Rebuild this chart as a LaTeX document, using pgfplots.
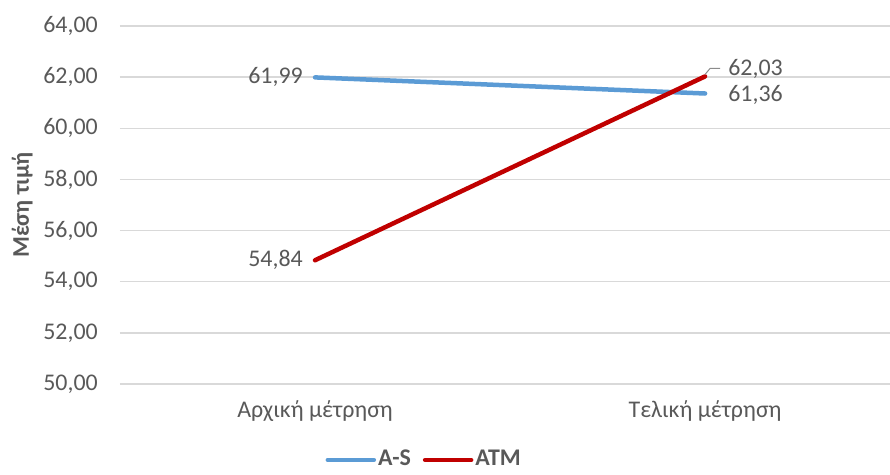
\documentclass[border=0pt]{standalone}
\usepackage{pgfplots}
\pgfplotsset{compat=1.18}
\usepackage{fontspec}
\setmainfont{Carlito}
\definecolor{txtgray}{HTML}{595959}
\definecolor{gridgray}{HTML}{D9D9D9}
\definecolor{asblue}{HTML}{5B9BD5}
\definecolor{atmred}{HTML}{C00000}
\begin{document}
\fontsize{24}{28}\selectfont
\begin{tikzpicture}[x=1bp,y=1bp]
\begin{axis}[
  at={(0,0)}, anchor=south west,
  scale only axis,
  width=770bp, height=358bp,
  xmin=-0.5, xmax=1.474,
  ymin=50, ymax=64,
  ytick={50,52,...,64},
  xtick={0,1},
  xticklabels={Αρχική μέτρηση, Τελική μέτρηση},
  axis line style={draw=none},
  tick style={draw=none},
  ymajorgrids,
  major grid style={gridgray, line width=1.5bp},
  /pgf/number format/assume math mode=true,
  yticklabel={\pgfmathprintnumber[fixed, fixed zerofill, precision=2, use comma]{\tick}},
  yticklabel style={anchor=east, inner sep=0pt, xshift=-22bp, text=txtgray},
  xticklabel style={anchor=base, inner sep=0pt, yshift=-33bp, text=txtgray},
  ylabel={\bfseries Μέση τιμή},
  ylabel style={at={(axis description cs:-0.127,0.5)}, anchor=center, rotate=0, text=txtgray},
  legend columns=2,
  legend style={at={(axis description cs:0.395,-0.212)}, anchor=center, draw=none,
    fill=none, font=\bfseries, text=txtgray, inner sep=0pt,
    /tikz/every even column/.append style={column sep=10bp}},
  legend image code/.code={\draw[#1, line cap=round] (0bp,0bp) -- (46bp,0bp);},
  nodes near coords={\pgfmathprintnumber[fixed, fixed zerofill, precision=2, use comma]{\pgfplotspointmeta}},
  every node near coord/.append style={text=txtgray, inner sep=0pt},
  visualization depends on={value \thisrow{anc} \as \labanc},
  visualization depends on={value \thisrow{dx} \as \labdx},
  visualization depends on={value \thisrow{dy} \as \labdy},
  every node near coord/.append style={anchor=\labanc, xshift=\labdx bp, yshift=\labdy bp},
  clip=false,
]
% A-S series
\addplot[asblue, line width=4.5bp, line cap=round, mark=none] table[x=x, y=y, meta=y] {
x y anc dx dy
0 61.99 east -10 0
1 61.36 west 21 -1.5
};
\addlegendentry{A-S}
% ATM series
\addplot[atmred, line width=4.5bp, line cap=round, mark=none] table[x=x, y=y, meta=y] {
x y anc dx dy
0 54.84 east -10 0
1 62.03 west 21 7
};
\addlegendentry{ATM}
% leader line for the final ATM label
\draw[txtgray!70, line width=1bp] (axis cs:1,62.03) ++(0bp,2bp) -- ++(5bp,6bp) -- ++(10bp,0bp);
\end{axis}
\pgfresetboundingbox
\path[use as bounding box] (-120bp,-91bp) rectangle (770bp,384bp);
\end{tikzpicture}
\end{document}
